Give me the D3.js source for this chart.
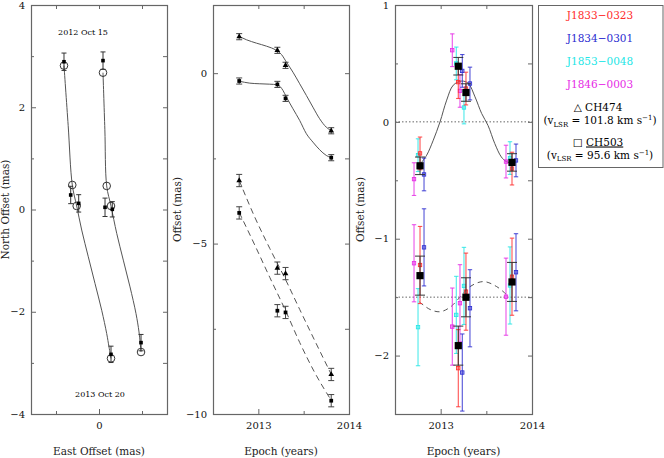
<!DOCTYPE html>
<html><head><meta charset="utf-8">
<script src="https://cdn.jsdelivr.net/npm/d3@7"></script>
<style>body{margin:0;background:#fff} svg{display:block}</style>
</head><body><svg id="c" width="664" height="458"></svg>
<script>
// ---------- DATA ----------
// Left panel: sky tracks (East offset, North offset) in mas
const leftCurveA = [[-0.814,2.814],[-0.717,1.647],[-0.621,0.480],[-0.519,0.069],[-0.402,-0.402],[-0.249,-0.925],[-0.093,-1.447],[0.063,-1.971],[0.179,-2.427],[0.233,-2.690],[0.279,-2.912]];
const leftCurveB = [[0.093,2.676],[0.136,1.570],[0.179,0.461],[0.279,0.069],[0.412,-0.467],[0.565,-0.990],[0.721,-1.514],[0.860,-2.035],[0.930,-2.396],[0.977,-2.788]];
const leftModelA = [[-0.814,2.814],[-0.621,0.480],[-0.519,0.069],[0.279,-2.912]];
const leftModelB = [[0.093,2.676],[0.179,0.461],[0.279,0.069],[0.977,-2.788]];
const leftObsA = [[-0.814,2.89,0.17],[-0.658,0.284,0.17],[-0.472,0.12,0.17],[0.279,-2.833,0.16]];
const leftObsB = [[0.093,2.912,0.17],[0.140,0.043,0.18],[0.309,0.004,0.15],[0.977,-2.604,0.16]];
const leftDates = ["2012 Oct 15","2013 Oct 20"];

// Middle panel: offsets vs epoch
const epochs = [2012.789, 2013.21, 2013.30, 2013.804];
const midTriSolid = [1.07, 0.67, 0.23, -1.69];
const midSqSolid = [-0.23, -0.33, -0.74, -2.48];
const midTriDashed = [-3.15, -5.72, -5.88, -8.84];
const midSqDashed = [-4.10, -6.97, -7.02, -9.61];
const midErrSolid = [0.09, 0.09, 0.09, 0.09];
const midErrDashed = [0.18, 0.18, 0.18, 0.18];
const midCurveTriSolid = [[2012.789,1.076],[2012.870,0.979],[2012.980,0.880],[2013.090,0.792],[2013.200,0.666],[2013.255,0.548],[2013.310,0.323],[2013.382,0.029],[2013.456,-0.311],[2013.530,-0.654],[2013.602,-0.997],[2013.676,-1.337],[2013.749,-1.584],[2013.804,-1.689]];
const midCurveSqSolid = [[2012.789,-0.235],[2012.906,-0.293],[2013.016,-0.311],[2013.126,-0.323],[2013.210,-0.340],[2013.272,-0.507],[2013.310,-0.704],[2013.382,-1.044],[2013.456,-1.387],[2013.530,-1.777],[2013.602,-2.023],[2013.676,-2.246],[2013.749,-2.413],[2013.804,-2.481]];
const midCurveTriDashed = [[2012.789,-3.147],[2012.962,-4.232],[2013.126,-5.141],[2013.299,-6.05],[2013.456,-6.93],[2013.621,-7.84],[2013.804,-8.836]];
const midCurveSqDashed = [[2012.789,-4.085],[2012.962,-5.05],[2013.126,-5.99],[2013.299,-6.96],[2013.456,-7.90],[2013.621,-8.78],[2013.804,-9.60]];

// Right panel: per-reference-source offsets
const sources = ["J1833\u22120323","J1834\u22120301","J1853\u22120048","J1846\u22120003"];
const sourceColors = ["#ff2a2a","#2a2ad0","#22e6e6","#e62ae6"];
const sourceShiftPx = [0, 4, -2, -6];
const rightEpochs = [2012.774, 2013.193, 2013.277, 2013.781];
const upperBySource = [
  [-0.27, 0.34, 0.285, -0.40],
  [-0.45, 0.436, 0.328, -0.33],
  [-0.285, 0.50, 0.123, -0.31],
  [-0.49, 0.613, 0.265, -0.34]
];
const lowerBySource = [
  [-1.225, -2.108, -1.453, -1.325],
  [-1.074, -2.145, -1.595, -1.287],
  [-1.757, -1.652, -1.404, -1.40],
  [-1.21, -1.752, -1.552, -1.496]
];
const upperMean = [-0.376, 0.476, 0.251, -0.347];
const lowerMean = [-1.316, -1.915, -1.501, -1.370];
const upperErrSrc = 0.14, upperErrMean = 0.075;
const lowerErrSrc = 0.33, lowerErrMean = 0.167;
const rightCurveUpper = [[2012.781,-0.356],[2012.847,-0.285],[2012.919,-0.157],[2012.993,0.0],[2013.066,0.186],[2013.138,0.314],[2013.230,0.349],[2013.303,0.329],[2013.376,0.214],[2013.449,0.071],[2013.518,-0.03],[2013.592,-0.185],[2013.664,-0.30],[2013.719,-0.34],[2013.77,-0.35]];
const rightCurveLower = [[2012.766,-1.540],[2012.883,-1.605],[2012.993,-1.625],[2013.102,-1.587],[2013.212,-1.50],[2013.321,-1.41],[2013.467,-1.367],[2013.614,-1.41],[2013.723,-1.48]];
const rightRefLines = [0, -1.5];
const legendMasers = [["\u25B3","CH474","101.8"],["\u25A1","CH503","95.6"]];

// ---------- DRAWING ----------
const svg = d3.select("#c");
const FONT = "DejaVu Serif";
const FRAME = "#666";
const fmtNum = d => (d < 0 ? "\u2212" + Math.abs(d) : String(d));

function panel(o) {
  const x = d3.scaleLinear().domain(o.xDomain).range([o.x0, o.x1]);
  const y = d3.scaleLinear().domain(o.yDomain).range([o.y1, o.y0]);
  const g = svg.append("g");
  const style = sel => {
    sel.select(".domain").remove();
    sel.selectAll("line").attr("stroke", FRAME);
    sel.selectAll("text").attr("font-family", FONT).attr("font-size", 10).attr("fill", "#111");
  };
  g.append("g").attr("transform", `translate(0,${o.y1})`)
    .call(d3.axisBottom(x).tickValues(o.xMajor).tickSize(-5).tickPadding(8).tickFormat(o.xFmt || fmtNum)).call(style);
  g.append("g").attr("transform", `translate(0,${o.y1})`)
    .call(d3.axisBottom(x).tickValues(o.xMinor).tickSize(-3).tickFormat(() => "")).call(style);
  g.append("g").attr("transform", `translate(0,${o.y0})`)
    .call(d3.axisTop(x).tickValues(o.xMajor.concat(o.xMinor)).tickSize(-4).tickFormat(() => "")).call(style);
  g.append("g").attr("transform", `translate(${o.x0},0)`)
    .call(d3.axisLeft(y).tickValues(o.yMajor).tickSize(-5).tickPadding(6).tickFormat(fmtNum)).call(style);
  g.append("g").attr("transform", `translate(${o.x0},0)`)
    .call(d3.axisLeft(y).tickValues(o.yMinor).tickSize(-3).tickFormat(() => "")).call(style);
  g.append("g").attr("transform", `translate(${o.x1},0)`)
    .call(d3.axisRight(y).tickValues(o.yMajor.concat(o.yMinor)).tickSize(-4).tickFormat(() => "")).call(style);
  g.append("rect").attr("x", o.x0 + 0.5).attr("y", o.y0 + 0.5)
    .attr("width", o.x1 - o.x0).attr("height", o.y1 - o.y0)
    .attr("fill", "none").attr("stroke", FRAME).attr("stroke-width", 1.2);
  g.append("text").attr("x", (o.x0 + o.x1) / 2).attr("y", 455).attr("text-anchor", "middle")
    .attr("font-family", FONT).attr("font-size", 10.5).attr("fill", "#222").text(o.xTitle);
  g.append("text").attr("transform", `translate(${o.yTitleX},${(o.y0 + o.y1) / 2}) rotate(-90)`)
    .attr("text-anchor", "middle").attr("font-family", FONT).attr("font-size", 10.5).attr("fill", "#222").text(o.yTitle);
  const clip = "clip" + Math.round(o.x0);
  svg.append("clipPath").attr("id", clip).append("rect")
    .attr("x", o.x0).attr("y", o.y0).attr("width", o.x1 - o.x0).attr("height", o.y1 - o.y0);
  const inner = svg.append("g").attr("clip-path", `url(#${clip})`);
  return { x, y, g, inner };
}

function errBar(g, x, y, v, e, cap, color, width, opacity) {
  g.append("line").attr("x1", x).attr("x2", x).attr("y1", y(v - e)).attr("y2", y(v + e))
    .attr("stroke", color).attr("stroke-width", width).attr("opacity", opacity);
  [v - e, v + e].forEach(w => g.append("line").attr("x1", x - cap).attr("x2", x + cap)
    .attr("y1", y(w)).attr("y2", y(w)).attr("stroke", color).attr("stroke-width", width).attr("opacity", opacity));
}

// ----- Left panel -----
const L = panel({x0: 31, x1: 167, y0: 5, y1: 414, xDomain: [-1.581, 1.581], yDomain: [-4, 4],
  xMajor: [0], xMinor: [-1, 1], yMajor: [-4, -2, 0, 2, 4], yMinor: [-3, -1, 1, 3],
  xTitle: "East Offset (mas)", yTitle: "North Offset (mas)", yTitleX: 9});
const lineL = d3.line().x(d => L.x(d[0])).y(d => L.y(d[1])).curve(d3.curveCatmullRom.alpha(0.5));
[leftCurveA, leftCurveB].forEach(c => L.inner.append("path").attr("d", lineL(c))
  .attr("fill", "none").attr("stroke", "#555").attr("stroke-width", 1));
[leftObsA, leftObsB].forEach(obs => obs.forEach(d => {
  errBar(L.inner, L.x(d[0]), L.y, d[1], d[2], 2.5, "#333", 1, 1);
}));
[leftModelA, leftModelB].forEach(m => m.forEach(d => L.inner.append("circle")
  .attr("cx", L.x(d[0])).attr("cy", L.y(d[1])).attr("r", 3.8)
  .attr("fill", "none").attr("stroke", "#333").attr("stroke-width", 1)));
[leftObsA, leftObsB].forEach(obs => obs.forEach(d => L.inner.append("rect")
  .attr("x", L.x(d[0]) - 1.8).attr("y", L.y(d[1]) - 1.8).attr("width", 3.6).attr("height", 3.6).attr("fill", "#000")));
svg.append("text").attr("x", 83).attr("y", 35).attr("text-anchor", "middle")
  .attr("font-family", FONT).attr("font-size", 8).text(leftDates[0]);
svg.append("text").attr("x", 100).attr("y", 397).attr("text-anchor", "middle")
  .attr("font-family", FONT).attr("font-size", 8).text(leftDates[1]);

// ----- Middle panel -----
const M = panel({x0: 213, x1: 349, y0: 5, y1: 414, xDomain: [2012.5, 2014], yDomain: [-10, 2],
  xMajor: [2013, 2014], xMinor: [2013.5], yMajor: [-10, -5, 0], yMinor: [-7.5, -2.5],
  xFmt: d3.format("d"), xTitle: "Epoch (years)", yTitle: "Offset (mas)", yTitleX: 181});
const lineM = d3.line().x(d => M.x(d[0])).y(d => M.y(d[1])).curve(d3.curveMonotoneX);
[midCurveTriSolid, midCurveSqSolid].forEach(c => M.inner.append("path").attr("d", lineM(c))
  .attr("fill", "none").attr("stroke", "#555").attr("stroke-width", 1));
[midCurveTriDashed, midCurveSqDashed].forEach(c => M.inner.append("path").attr("d", lineM(c))
  .attr("fill", "none").attr("stroke", "#555").attr("stroke-width", 1).attr("stroke-dasharray", "6,4"));
const triSym = d3.symbol().type(d3.symbolTriangle).size(14);
const sqSym = d3.symbol().type(d3.symbolSquare).size(14);
[[midTriSolid, midErrSolid, triSym], [midSqSolid, midErrSolid, sqSym],
 [midTriDashed, midErrDashed, triSym], [midSqDashed, midErrDashed, sqSym]].forEach(([vals, errs, sym]) => {
  vals.forEach((v, i) => {
    errBar(M.inner, M.x(epochs[i]), M.y, v, errs[i], 3, "#444", 1, 1);
    M.inner.append("path").attr("d", sym()).attr("fill", "#000")
      .attr("transform", `translate(${M.x(epochs[i])},${M.y(v)})`);
  });
});

// ----- Right panel -----
const R = panel({x0: 395, x1: 532, y0: 5, y1: 414, xDomain: [2012.5, 2014], yDomain: [-2.5, 1],
  xMajor: [2013, 2014], xMinor: [2013.5], yMajor: [-2, -1, 0, 1], yMinor: [-1.5, -0.5, 0.5],
  xFmt: d3.format("d"), xTitle: "Epoch (years)", yTitle: "Offset (mas)", yTitleX: 364});
rightRefLines.forEach(v => R.inner.append("line").attr("x1", 395).attr("x2", 532)
  .attr("y1", R.y(v)).attr("y2", R.y(v)).attr("stroke", "#666").attr("stroke-width", 1).attr("stroke-dasharray", "1.5,2"));
const lineR = d3.line().x(d => R.x(d[0])).y(d => R.y(d[1])).curve(d3.curveCatmullRom.alpha(0.5));
R.inner.append("path").attr("d", lineR(rightCurveUpper)).attr("fill", "none").attr("stroke", "#555").attr("stroke-width", 1);
R.inner.append("path").attr("d", lineR(rightCurveLower)).attr("fill", "none").attr("stroke", "#555")
  .attr("stroke-width", 1).attr("stroke-dasharray", "5,4");
const drawOrder = [3, 2, 0, 1];
[[upperBySource, upperErrSrc], [lowerBySource, lowerErrSrc]].forEach(([grp, err]) => {
  drawOrder.forEach(s => {
    grp[s].forEach((v, i) => {
      const px = R.x(rightEpochs[i]) + sourceShiftPx[s];
      errBar(R.inner, px, R.y, v, err, 2.2, sourceColors[s], 1.1, 0.8);
      R.inner.append("rect").attr("x", px - 1.7).attr("y", R.y(v) - 1.7).attr("width", 3.4).attr("height", 3.4)
        .attr("fill", sourceColors[s]).attr("fill-opacity", 0.4).attr("stroke", sourceColors[s]).attr("stroke-width", 0.8);
    });
  });
});
[[upperMean, upperErrMean], [lowerMean, lowerErrMean]].forEach(([vals, err]) => {
  vals.forEach((v, i) => {
    const px = R.x(rightEpochs[i]);
    errBar(R.inner, px, R.y, v, err, 5, "#333", 1.1, 0.9);
    R.inner.append("rect").attr("x", px - 3.6).attr("y", R.y(v) - 3.6).attr("width", 7.2).attr("height", 7.2).attr("fill", "#000");
  });
});

// ----- Legend -----
const lg = svg.append("g");
lg.append("rect").attr("x", 538.5).attr("y", 5.5).attr("width", 124.5).attr("height", 162)
  .attr("fill", "#fff").attr("stroke", "#666").attr("stroke-width", 1);
const lcx = 600;
sources.forEach((s, i) => lg.append("text").attr("x", lcx).attr("y", 19 + i * 23)
  .attr("text-anchor", "middle").attr("font-family", FONT).attr("font-size", 10.5)
  .attr("fill", sourceColors[i]).text(s));
legendMasers.forEach((m, i) => {
  const y0 = 111 + i * 34.5;
  const t = lg.append("text").attr("x", lcx - 2).attr("y", y0).attr("text-anchor", "middle")
    .attr("font-family", FONT).attr("font-size", 10.5);
  t.append("tspan").text(m[0] + " ");
  t.append("tspan").attr("text-decoration", i === 1 ? "underline" : null).text(m[1]);
  const v = lg.append("text").attr("x", lcx).attr("y", y0 + 13).attr("text-anchor", "middle")
    .attr("font-family", FONT).attr("font-size", 10.5);
  v.append("tspan").text("(v");
  v.append("tspan").attr("font-size", 7).attr("dy", 2.5).text("LSR");
  v.append("tspan").attr("dy", -2.5).text(" = " + m[2] + " km s");
  v.append("tspan").attr("font-size", 7).attr("dy", -4).text("\u22121");
  v.append("tspan").attr("dy", 4).text(")");
});
</script></body></html>
